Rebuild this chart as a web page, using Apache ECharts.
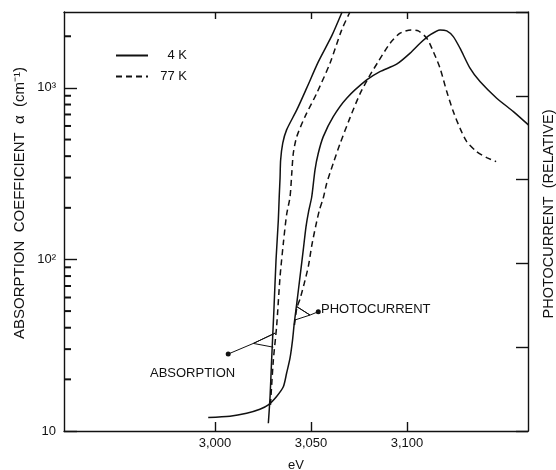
<!DOCTYPE html>
<html>
<head>
<meta charset="utf-8">
<script src="https://cdn.jsdelivr.net/npm/echarts@6/dist/echarts.min.js"></script>
<style>
html,body{margin:0;padding:0;background:#fff;}
#c{width:556px;height:470px;}
</style>
</head>
<body>
<div id="c"></div>
<script>
// x: photon energy (eV); y: absorption coefficient (cm^-1) / photocurrent (relative, same log scale)
const xTicks = [3.000, 3.050, 3.100];
const yMajorTicks = [10, 100, 1000];
const yMinorTicks = [20, 30, 40, 50, 60, 70, 80, 90, 200, 300, 400, 500, 600, 700, 800, 900, 2000];
const rightTicks = [0, 1, 2, 3, 4, 5];
const yMin = 10, yMax = 2770;
const xMin = 2.9214, xMax = 3.1630;

const absorption4K = [
  [3.0278, 11.1], [3.0287, 15.9], [3.0295, 25.9], [3.0307, 50.8], [3.0318, 99.3],
  [3.0330, 170], [3.0335, 238], [3.0339, 299], [3.0342, 380], [3.0353, 476],
  [3.0373, 569], [3.0426, 744], [3.0478, 1000], [3.0538, 1418], [3.0608, 2010],
  [3.0662, 2770]
];
const absorption77K = [
  [3.0289, 14.2], [3.0304, 25.9], [3.0321, 40.6], [3.0339, 79.4], [3.0356, 124],
  [3.0373, 182], [3.0391, 232], [3.0400, 318], [3.0408, 416], [3.0426, 520],
  [3.0469, 680], [3.0530, 931], [3.0599, 1393], [3.0660, 2179], [3.0703, 2770]
];
const photocurrent4K = [
  [2.9965, 12.0], [3.0078, 12.2], [3.0165, 12.7], [3.0234, 13.4], [3.0278, 14.2],
  [3.0321, 15.9], [3.0356, 18.1], [3.0373, 21.7], [3.0391, 26.7], [3.0404, 33.9],
  [3.0413, 42.5], [3.0426, 55.5], [3.0443, 79.4], [3.0460, 114], [3.0474, 155],
  [3.0487, 189], [3.0504, 232], [3.0521, 333], [3.0538, 416], [3.0564, 520],
  [3.0616, 680], [3.0686, 871], [3.0790, 1113], [3.0859, 1245], [3.0946, 1375],
  [3.1016, 1594], [3.1068, 1822], [3.1120, 2037], [3.1172, 2179], [3.1207, 2150],
  [3.1241, 1991], [3.1276, 1704], [3.1328, 1303], [3.1380, 1088], [3.1467, 871],
  [3.1554, 728], [3.1632, 609]
];
const photocurrent77K = [
  [3.0414, 41.5], [3.0426, 51.9], [3.0443, 58.9], [3.0464, 71.9], [3.0486, 90.8],
  [3.0505, 122], [3.0526, 159], [3.0544, 194], [3.0564, 228], [3.0582, 278],
  [3.0616, 364], [3.0651, 472], [3.0703, 669], [3.0755, 923], [3.0802, 1159],
  [3.0851, 1427], [3.0912, 1822], [3.0964, 2084], [3.1021, 2179], [3.1059, 2150],
  [3.1103, 1949], [3.1137, 1628], [3.1172, 1303], [3.1207, 952], [3.1241, 728],
  [3.1276, 582], [3.1311, 486], [3.1363, 425], [3.1415, 392], [3.1464, 372]
];
// annotation pointers (dot, fork vertex, upper arm, vertex, lower arm)
const absorptionPointer = [[3.0069, 28.1], [3.0200, 32.4], [3.0313, 37.2], [3.0200, 32.4], [3.0304, 30.8]];
const photocurrentPointer = [[3.0538, 49.6], [3.0495, 47.4], [3.0426, 53.1], [3.0495, 47.4], [3.0417, 44.4]];

const FONT = "'Liberation Sans', Arial, sans-serif";
const INK = '#111111';

function supLabel(v) {
  if (Math.abs(v - 10) < 1e-6) return '10';
  if (Math.abs(v - 100) < 1e-6) return '10²';
  if (Math.abs(v - 1000) < 1e-6) return '10³';
  return '';
}
function pointerData(arr) {
  return arr.map((p, i) => i === 0 ? {value: p, symbol: 'circle', symbolSize: 5} : {value: p, symbol: 'none'});
}

const chart = echarts.init(document.getElementById('c'), null, {renderer: 'canvas'});
const lineBase = {type: 'line', symbol: 'none', smooth: 0.25, animation: false, z: 3};

chart.setOption({
  backgroundColor: '#ffffff',
  animation: false,
  textStyle: {fontFamily: FONT, color: INK},
  grid: {left: 64, right: 28, top: 12, bottom: 39, outerBoundsMode: 'none', containLabel: false},
  legend: {
    data: ['4 K', '77 K'],
    orient: 'vertical',
    left: 110, top: 44,
    itemWidth: 32, itemHeight: 12, itemGap: 8,
    selectedMode: false,
    itemStyle: {opacity: 0},
    formatter: n => '{a|' + n + '}',
    textStyle: {
      fontFamily: FONT, fontSize: 13, color: INK,
      rich: {a: {width: 34, align: 'right', fontFamily: FONT, fontSize: 13, color: INK}}
    }
  },
  xAxis: [
    {
      type: 'value', min: xMin, max: xMax, position: 'bottom',
      name: 'eV', nameLocation: 'middle', nameGap: 28,
      nameTextStyle: {fontFamily: FONT, fontSize: 13, color: INK},
      axisLine: {show: true, lineStyle: {color: INK, width: 1.4}},
      axisTick: {show: true, inside: true, length: 9, customValues: xTicks, lineStyle: {color: INK, width: 1.4}},
      axisLabel: {show: true, customValues: xTicks, margin: 6, fontFamily: FONT, fontSize: 13, color: INK,
        formatter: v => v.toFixed(3).replace('.', ',')},
      splitLine: {show: false}
    },
    {
      type: 'value', min: xMin, max: xMax, position: 'top',
      axisLine: {show: true, lineStyle: {color: INK, width: 1.4}},
      axisTick: {show: true, inside: true, length: 7, customValues: xTicks, lineStyle: {color: INK, width: 1.4}},
      axisLabel: {show: false},
      splitLine: {show: false}
    }
  ],
  yAxis: [
    {
      type: 'log', logBase: 10, min: yMin, max: yMax, position: 'left',
      axisLine: {show: true, lineStyle: {color: INK, width: 1.4}},
      axisTick: {show: true, inside: true, length: 13, customValues: yMajorTicks, lineStyle: {color: INK, width: 1.4}},
      axisLabel: {show: true, customValues: yMajorTicks, margin: 8, fontFamily: FONT, fontSize: 13, color: INK, formatter: supLabel},
      splitLine: {show: false}
    },
    {
      type: 'value', min: 0, max: 5, position: 'right',
      axisLine: {show: true, lineStyle: {color: INK, width: 1.4}},
      axisTick: {show: true, inside: true, length: 12, customValues: rightTicks, lineStyle: {color: INK, width: 1.4}},
      axisLabel: {show: false},
      splitLine: {show: false}
    }
  ],
  series: [
    Object.assign({}, lineBase, {name: '4 K', data: absorption4K, lineStyle: {color: INK, width: 1.5, type: 'solid'}, itemStyle: {color: INK}}),
    Object.assign({}, lineBase, {name: '77 K', data: absorption77K, lineStyle: {color: INK, width: 1.5, type: [6, 4]}, itemStyle: {color: INK}}),
    Object.assign({}, lineBase, {name: '4 K', data: photocurrent4K, lineStyle: {color: INK, width: 1.5, type: 'solid'}, itemStyle: {color: INK}}),
    Object.assign({}, lineBase, {name: '77 K', data: photocurrent77K, lineStyle: {color: INK, width: 1.5, type: [6, 4]}, itemStyle: {color: INK}}),
    {type: 'line', name: 'absorption pointer', data: pointerData(absorptionPointer), smooth: false, symbol: 'none', showSymbol: true,
      lineStyle: {color: INK, width: 1}, itemStyle: {color: INK}, animation: false, silent: true, z: 4},
    {type: 'line', name: 'photocurrent pointer', data: pointerData(photocurrentPointer), smooth: false, symbol: 'none', showSymbol: true,
      lineStyle: {color: INK, width: 1}, itemStyle: {color: INK}, animation: false, silent: true, z: 4},
    {
      // minor log ticks on the left axis, placed via the axis scales
      type: 'scatter', name: 'minor ticks', silent: true, animation: false, clip: false, z: 5,
      data: yMinorTicks.map(v => [xMin, v]),
      symbol: 'rect', symbolSize: [7, 2], symbolOffset: [3.5, 0],
      itemStyle: {color: INK, opacity: 1}
    }
  ],
  graphic: [
    {type: 'text', x: 20, y: 203, rotation: Math.PI / 2,
      style: {text: 'ABSORPTION  COEFFICIENT  α  (cm⁻¹)', font: '15px ' + FONT, fill: INK, align: 'center', verticalAlign: 'middle'}},
    {type: 'text', x: 549, y: 214, rotation: Math.PI / 2,
      style: {text: 'PHOTOCURRENT  (RELATIVE)', font: '14.5px ' + FONT, fill: INK, align: 'center', verticalAlign: 'middle'}},
    {type: 'text', x: 150, y: 373,
      style: {text: 'ABSORPTION', font: '13px ' + FONT, fill: INK, align: 'left', verticalAlign: 'middle'}},
    {type: 'text', x: 321, y: 309,
      style: {text: 'PHOTOCURRENT', font: '13px ' + FONT, fill: INK, align: 'left', verticalAlign: 'middle'}}
  ]
});
</script>
</body>
</html>
